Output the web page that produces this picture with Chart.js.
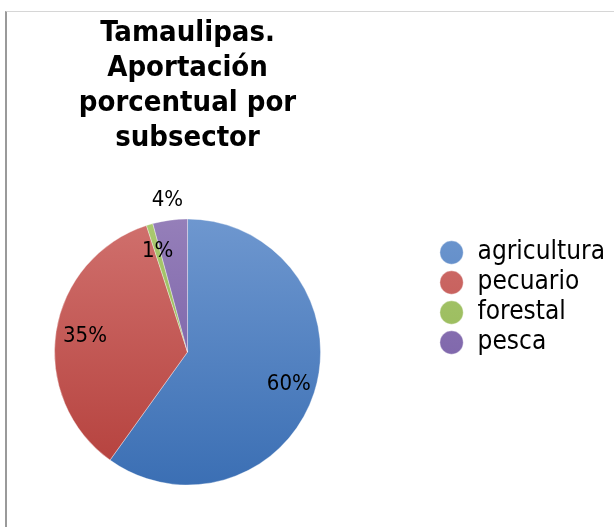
<!DOCTYPE html>
<html>
<head>
<meta charset="utf-8">
<script src="https://cdn.jsdelivr.net/npm/chart.js@4.4.1/dist/chart.umd.min.js"></script>
<style>
  html, body { margin: 0; padding: 0; background: #ffffff; overflow: hidden; }
  #frame { position: absolute; left: 5px; top: 11px; width: 609px; height: 516px;
           border-left: 2px solid #9a9a9a; border-top: 1px solid #d6d6d6; box-sizing: border-box; }
  #wrap { position: absolute; left: -70px; top: 0; width: 695px; height: 527px; }
</style>
</head>
<body>
<div id="frame"></div>
<div id="wrap"><canvas id="c" width="695" height="527"></canvas></div>
<script>
// ---- data ----
const categories = ['agricultura', 'pecuario', 'forestal', 'pesca'];
const values = [59.9, 35.1, 0.8, 4.2];
const titleLines = ['Tamaulipas.', 'Aportación', 'porcentual por', 'subsector'];

// ---- style ----
const lightColors = ['#6e97cf', '#d0706d', '#aac970', '#957fb9'];
const darkColors  = ['#3b6fb4', '#b43f3b', '#8aae4a', '#6d53a0'];
const FONT = "'DejaVu Sans Condensed', 'DejaVu Sans', sans-serif";
const PIE_R = 133;
const labelRadius = [0.80, 0.78, 0.79, 1.15];

function sliceFill(ctx) {
  const chart = ctx.chart;
  const i = ctx.dataIndex;
  const area = chart.chartArea;
  if (!area || i === undefined) return darkColors[i || 0];
  const cy = (area.top + area.bottom) / 2;
  const g = chart.ctx.createLinearGradient(0, cy - PIE_R, 0, cy + PIE_R);
  g.addColorStop(0, lightColors[i]);
  g.addColorStop(1, darkColors[i]);
  return g;
}

const pctLabels = {
  id: 'pctLabels',
  afterDatasetsDraw(chart) {
    const meta = chart.getDatasetMeta(0);
    const c = chart.ctx;
    c.save();
    c.font = '22px ' + FONT;
    c.fillStyle = '#000000';
    c.textAlign = 'center';
    c.textBaseline = 'middle';
    meta.data.forEach((arc, i) => {
      const p = arc.getProps(['x', 'y', 'startAngle', 'endAngle', 'outerRadius'], true);
      const mid = (p.startAngle + p.endAngle) / 2;
      const d = p.outerRadius * labelRadius[i];
      const txt = Math.round(values[i]) + '%';
      c.fillText(txt, p.x + Math.cos(mid) * d, p.y + Math.sin(mid) * d);
    });
    c.restore();
  }
};

new Chart(document.getElementById('c'), {
  type: 'pie',
  data: {
    labels: categories,
    datasets: [{
      data: values,
      backgroundColor: sliceFill,
      borderColor: 'rgba(255,255,255,0.35)',
      borderWidth: 1,
      radius: PIE_R,
      clip: false
    }]
  },
  options: {
    responsive: false,
    animation: false,
    events: [],
    layout: { padding: { left: 10.5, right: 10, top: 8, bottom: 58.5 } },
    plugins: {
      title: {
        display: true,
        text: titleLines,
        fullSize: false,
        color: '#000000',
        font: { family: FONT, size: 29, weight: 'bold', lineHeight: 35 / 29 },
        padding: { top: 8, bottom: 79.5 }
      },
      legend: {
        display: true,
        position: 'right',
        fullSize: false,
        align: 'start',
        labels: {
          usePointStyle: true,
          pointStyle: 'circle',
          boxWidth: 26,
          boxHeight: 16.5,
          padding: 4,
          color: '#000000',
          font: { family: FONT, size: 26 }
        }
      },
      tooltip: { enabled: false }
    }
  },
  plugins: [pctLabels]
});
</script>
</body>
</html>
